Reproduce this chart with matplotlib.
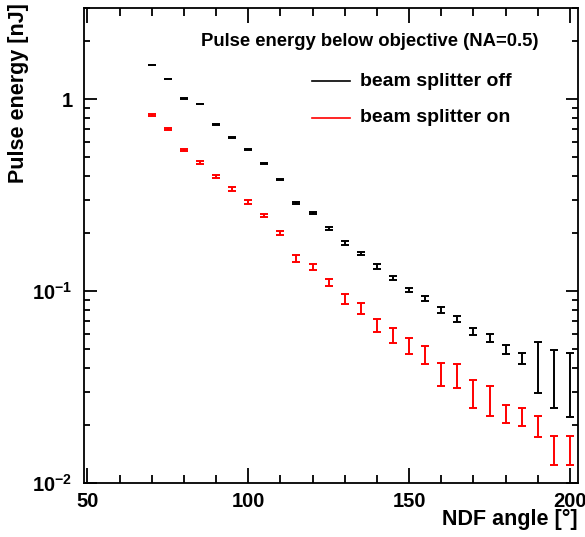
import numpy as np
import matplotlib
matplotlib.use("Agg")
import matplotlib.pyplot as plt
from matplotlib.ticker import FixedLocator, LogLocator, NullFormatter, FuncFormatter

# ROOT-like look: bold helvetica-ish text
plt.rcParams['font.family'] = ['Liberation Sans', 'DejaVu Sans']
plt.rcParams['font.weight'] = 'bold'
plt.rcParams['mathtext.fontset'] = 'custom'
plt.rcParams['mathtext.rm'] = 'Liberation Sans:bold'
plt.rcParams['mathtext.bf'] = 'Liberation Sans:bold'
plt.rcParams['mathtext.default'] = 'rm'

# NDF angle [deg]
angle = [70, 75, 80, 85, 90, 95, 100, 105, 110, 115, 120, 125, 130, 135,
         140, 145, 150, 155, 160, 165, 170, 175, 180, 185, 190, 195, 200]

# beam splitter off
e_off = [1.51, 1.275, 1.004, 0.942, 0.735, 0.631, 0.545, 0.462, 0.382, 0.287,
         0.256, 0.213, 0.178, 0.157, 0.1345, 0.117, 0.1016, 0.0916, 0.0796,
         0.0718, 0.0619, 0.0571, 0.0497, 0.0447, 0.042, 0.0372, 0.0348]
err_off = [0.004, 0.004, 0.004, 0.004, 0.004, 0.004, 0.004, 0.004, 0.004, 0.004,
           0.004, 0.0035, 0.0035, 0.0033, 0.0033, 0.003, 0.0028, 0.0028, 0.0027,
           0.0026, 0.0027, 0.0025, 0.0026, 0.0027, 0.0125, 0.0125, 0.0126]

# beam splitter on
e_on = [0.825, 0.698, 0.545, 0.470, 0.394, 0.341, 0.292, 0.248, 0.201, 0.1485,
        0.1333, 0.1114, 0.0912, 0.0813, 0.0666, 0.0592, 0.0521, 0.0470, 0.0373,
        0.0365, 0.0297, 0.0273, 0.0230, 0.0223, 0.0199, 0.0150, 0.0150]
err_on = [0.008, 0.008, 0.008, 0.008, 0.007, 0.007, 0.006, 0.005, 0.005, 0.006,
          0.005, 0.005, 0.0053, 0.0052, 0.0054, 0.0053, 0.005, 0.005, 0.0051,
          0.0051, 0.005, 0.0049, 0.0025, 0.0025, 0.0025, 0.0026, 0.0026]

fig = plt.figure(figsize=(5.85, 5.37), dpi=100)
ax = fig.add_axes([83.5 / 585, 1 - 483.3 / 537, 494.2 / 585, 475.8 / 537])

ax.errorbar(angle, e_off, yerr=err_off, fmt='none', ecolor='black',
            elinewidth=1.4, capsize=3, capthick=1.4)
ax.errorbar(angle, e_on, yerr=err_on, fmt='none', ecolor='red',
            elinewidth=1.4, capsize=3, capthick=1.4)

ax.set_yscale('log')
ax.set_xlim(48.8, 202.4)
ax.set_ylim(0.01, 3.0)

# ticks inside on all sides
ax.xaxis.set_major_locator(FixedLocator([50, 100, 150, 200]))
ax.xaxis.set_minor_locator(FixedLocator(np.arange(60, 201, 10)))
ax.yaxis.set_major_locator(LogLocator(base=10, numticks=10))
ax.yaxis.set_minor_locator(LogLocator(base=10, subs=np.arange(2, 10), numticks=10))
ax.yaxis.set_minor_formatter(NullFormatter())


def ylab(v, pos):
    if abs(v - 1) < 1e-9:
        return '1'
    return r'10$^{%d}$' % int(round(np.log10(v)))


ax.yaxis.set_major_formatter(FuncFormatter(ylab))
ax.tick_params(which='both', direction='in', top=True, right=True, width=1.3,
               labelsize=14.5)
ax.tick_params(axis='x', which='major', length=10.5, pad=6)
ax.tick_params(axis='x', which='minor', length=6)
ax.tick_params(axis='y', which='major', length=9, pad=8)
ax.tick_params(axis='y', which='minor', length=4)
for s in ax.spines.values():
    s.set_linewidth(1.3)

# axis titles, ROOT style (right / top aligned)
fig.text(19 / 585, 1 - 3 / 537, 'Pulse energy [nJ]', rotation=90,
         ha='center', va='top', fontsize=15.5)
fig.text(578 / 585, 1 - 519 / 537, 'NDF angle [°]', ha='right', va='center',
         fontsize=15.5)

# legend
ax.text(0.5797, 0.9275, 'Pulse energy below objective (NA=0.5)',
        transform=ax.transAxes, ha='center', va='center', fontsize=13.3)
ax.plot([0.4618, 0.5393], [0.8449, 0.8449], color='black', lw=1.2,
        transform=ax.transAxes)
ax.plot([0.4618, 0.5393], [0.7684, 0.7684], color='red', lw=1.2,
        transform=ax.transAxes)
ax.text(0.5595, 0.8449, 'beam splitter off', transform=ax.transAxes,
        ha='left', va='center', fontsize=14)
ax.text(0.5595, 0.7684, 'beam splitter on', transform=ax.transAxes,
        ha='left', va='center', fontsize=14)

fig.savefig('out.png', dpi=100)
